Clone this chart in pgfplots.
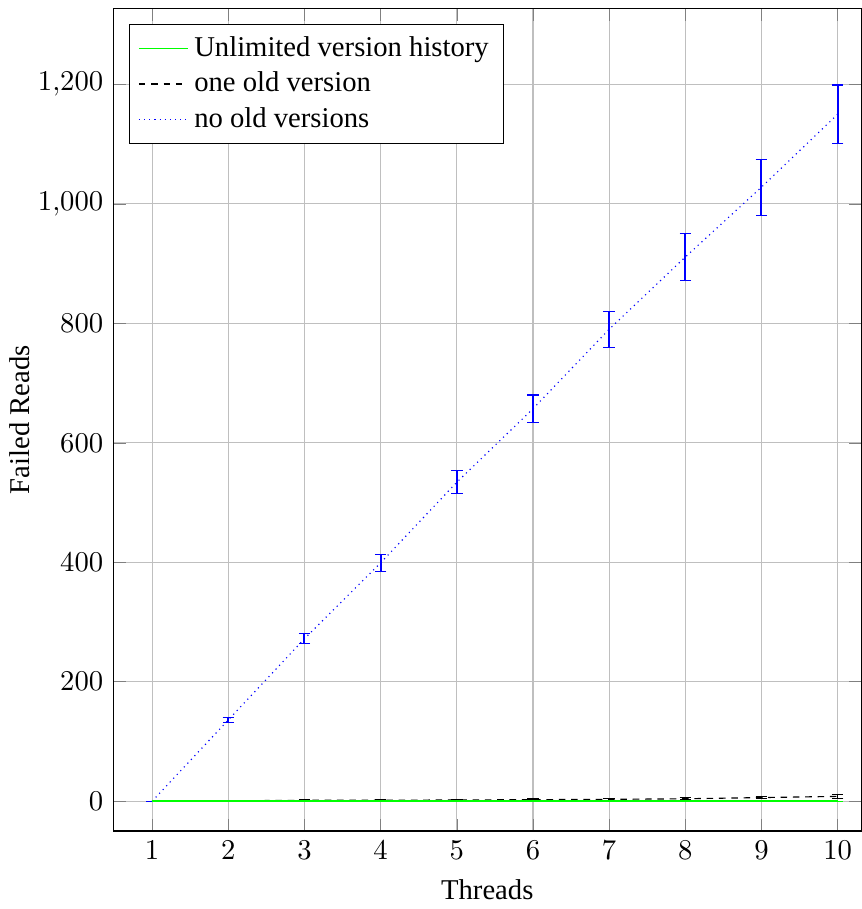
\documentclass[border=0pt]{standalone}
\usepackage{fontspec}
\setmainfont{Liberation Serif}
\usepackage{pgfplots}
\pgfplotsset{compat=1.18}
\pgfplotstableread{
x y e
1 0 0
2 0 0
3 0 0
4 0 0
5 0 0
6 0 0
7 0 0
8 0 0
9 0 0
10 0 0
}\unlimited
\begin{document}
\begin{tikzpicture}
\begin{axis}[
  scale only axis,
  width=261pt, height=287pt,
  xmin=0.49, xmax=10.31,
  ymin=-50, ymax=1327,
  xtick={1,2,3,4,5,6,7,8,9,10},
  ytick={0,200,400,600,800,1000,1200},
  grid=major,
  xlabel={Threads},
  ylabel={Failed Reads},
  ylabel shift=-4pt,
  legend style={at={(0.021,0.981)}, anchor=north west, legend cell align=left, draw=black},
]
\addplot[color=green, solid, line width=0.5pt, no markers,
  error bars/.cd, y dir=both, y explicit, error bar style={green, solid}]
  table[x=x, y=y, y error=e] {\unlimited};
\addlegendentry{Unlimited version history}
\addplot[color=black, dash pattern=on 2.3pt off 2pt, no markers,
  error bars/.cd, y dir=both, y explicit, error bar style={black, solid}]
  coordinates {
  (1,0) +- (0,0)
  (2,0.5) +- (0,0.5)
  (3,1.5) +- (0,1)
  (4,1.5) +- (0,1)
  (5,2) +- (0,1)
  (6,2.5) +- (0,1)
  (7,3) +- (0,1.5)
  (8,4) +- (0,2)
  (9,6) +- (0,2)
  (10,8) +- (0,3)
};
\addlegendentry{one old version}
\addplot[color=blue, dash pattern=on 0.4pt off 1.4pt, no markers,
  error bars/.cd, y dir=both, y explicit, error bar style={blue, solid, line width=0.7pt}]
  coordinates {
  (1,0) +- (0,0)
  (2,136) +- (0,4)
  (3,272) +- (0,8)
  (4,399) +- (0,14)
  (5,534) +- (0,19)
  (6,657) +- (0,23)
  (7,790) +- (0,30)
  (8,911) +- (0,39)
  (9,1028) +- (0,47)
  (10,1150) +- (0,49)
};
\addlegendentry{no old versions}
\addplot[color=green, solid, line width=0.5pt, no markers, forget plot]
  table[x=x, y=y] {\unlimited};
\end{axis}
\path (current axis.north west) ++(0,3pt);
\end{tikzpicture}
\end{document}
